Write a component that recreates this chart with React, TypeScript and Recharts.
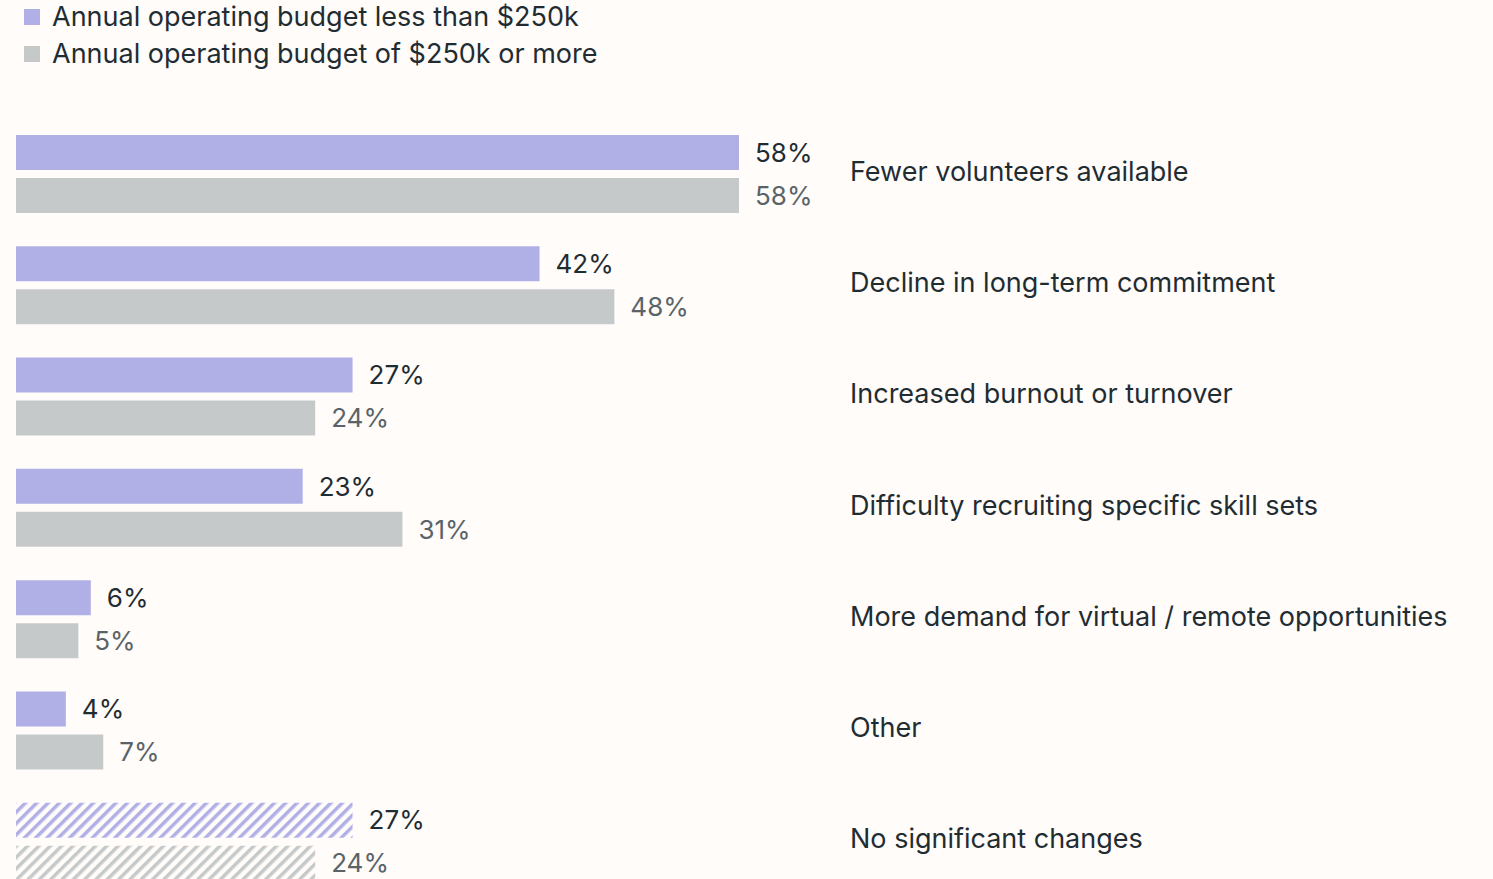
import { Bar, BarChart, Cell, LabelList, XAxis, YAxis } from 'recharts'

const categories = [
  'Fewer volunteers available',
  'Decline in long-term commitment',
  'Increased burnout or turnover',
  'Difficulty recruiting specific skill sets',
  'More demand for virtual / remote opportunities',
  'Other',
  'No significant changes',
]
const smallBudget = [58, 42, 27, 23, 6, 4, 27]
const largeBudget = [58, 48, 24, 31, 5, 7, 24]
const legendLabels = ['Annual operating budget less than $250k', 'Annual operating budget of $250k or more']

const PURPLE = '#b0b0e6'
const GREY = '#c6c9ca'
const TEXT = '#1f2d33'
const TEXT_GREY = '#5a6468'
const BG = '#fffcfa'
const FONT = 'Inter, "Open Sans", sans-serif'

const data = categories.map((name, i) => ({ name, small: smallBudget[i], large: largeBudget[i] }))

function CategoryTick(props: any) {
  const { y, payload } = props
  return (
    <text x={850} y={y} dy={7} fill={TEXT} fontSize={27} fontFamily={FONT}>
      {payload.value}
    </text>
  )
}

export default function App() {
  return (
    <div style={{ position: 'absolute', left: 0, top: 0, width: 1493, height: 879, overflow: 'hidden', background: BG }}>
      <div style={{ position: 'absolute', left: 24, top: -2, fontFamily: FONT, fontSize: 27, color: TEXT }}>
        {legendLabels.map((l, i) => (
          <div key={l} style={{ display: 'flex', alignItems: 'center', height: 37 }}>
            <span style={{ width: 16, height: 16, background: i === 0 ? PURPLE : GREY, marginRight: 12, display: 'inline-block' }} />
            {l}
          </div>
        ))}
      </div>
      <BarChart
        width={1493}
        height={897}
        data={data}
        layout="vertical"
        margin={{ top: 118, right: 0, left: 16, bottom: 0 }}
        barSize={35}
        barGap={8}
        style={{ position: 'absolute', left: 0, top: 0 }}
      >
        <defs>
          <pattern id="hatch-small" width="8" height="8" patternUnits="userSpaceOnUse" patternTransform="rotate(45)">
            <rect x="0" y="0" width="3.5" height="8" fill={PURPLE} />
          </pattern>
          <pattern id="hatch-large" width="8" height="8" patternUnits="userSpaceOnUse" patternTransform="rotate(45)">
            <rect x="0" y="0" width="3.5" height="8" fill={GREY} />
          </pattern>
        </defs>
        <XAxis type="number" domain={[0, 58]} hide />
        <YAxis
          type="category"
          dataKey="name"
          orientation="right"
          width={754}
          axisLine={false}
          tickLine={false}
          tick={<CategoryTick />}
          interval={0}
        />
        <Bar dataKey="small" fill={PURPLE} isAnimationActive={false}>
          {data.map((d, i) => (
            <Cell key={d.name} fill={i === data.length - 1 ? 'url(#hatch-small)' : PURPLE} />
          ))}
          <LabelList
            dataKey="small"
            position="right"
            offset={16}
            fill={TEXT}
            fontSize={26}
            fontFamily={FONT}
            formatter={(v: any) => `${v}%`}
          />
        </Bar>
        <Bar dataKey="large" fill={GREY} isAnimationActive={false}>
          {data.map((d, i) => (
            <Cell key={d.name} fill={i === data.length - 1 ? 'url(#hatch-large)' : GREY} />
          ))}
          <LabelList
            dataKey="large"
            position="right"
            offset={16}
            fill={TEXT_GREY}
            fontSize={26}
            fontFamily={FONT}
            formatter={(v: any) => `${v}%`}
          />
        </Bar>
      </BarChart>
    </div>
  )
}
